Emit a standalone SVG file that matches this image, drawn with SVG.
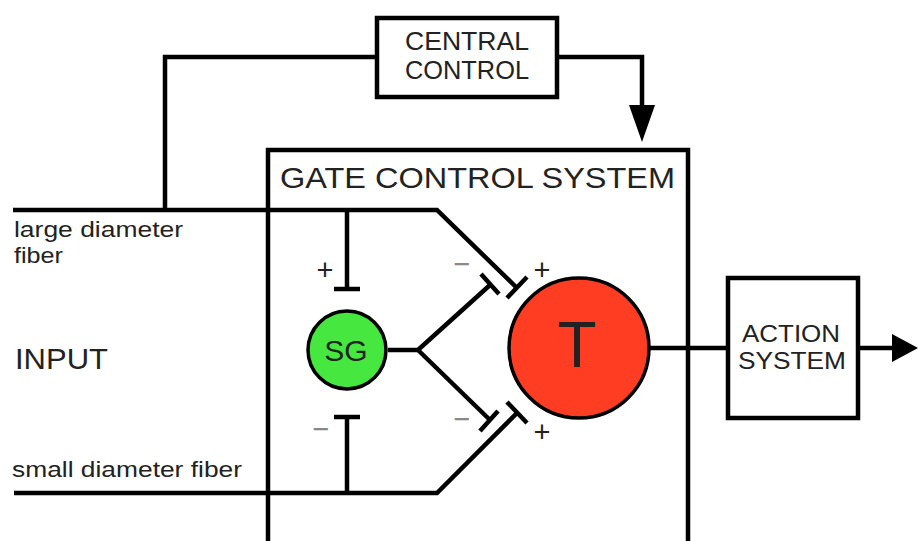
<svg xmlns="http://www.w3.org/2000/svg" width="918" height="541" viewBox="0 0 918 541">
<style>
.ln{fill:none;stroke:#000;stroke-width:4.5;stroke-linecap:butt;stroke-linejoin:miter}
.bx{fill:#fff;stroke:#000;stroke-width:4.5}
.t{font-family:"Liberation Sans",Arial,sans-serif;fill:#222}
.pm{font-family:"Liberation Sans",Arial,sans-serif;font-size:29px;text-anchor:middle}
</style>
<rect width="918" height="541" fill="#fff"/>
<g id="gate-control-system">
<rect class="bx" x="268" y="150" width="420" height="420"/>
<text class="t" x="280" y="188" font-size="30" textLength="395" lengthAdjust="spacingAndGlyphs">GATE CONTROL SYSTEM</text>
</g>
<g id="connectors">
<polyline class="ln" points="165,210 165,57 377,57"/>
<polyline class="ln" points="556,57 642,57 642,106"/>
<polygon points="629,105 655,105 642,142" fill="#000"/>
<polyline class="ln" points="13,210 437,210 517,288"/>
<line class="ln" x1="507" y1="298" x2="527" y2="277"/>
<polyline class="ln" points="14,493 437,493 517,413"/>
<line class="ln" x1="507" y1="402" x2="527" y2="423"/>
<line class="ln" x1="347" y1="210" x2="347" y2="289"/>
<line class="ln" x1="334" y1="289" x2="360" y2="289"/>
<line class="ln" x1="347" y1="493" x2="347" y2="417"/>
<line class="ln" x1="334" y1="417" x2="360" y2="417"/>
<polyline class="ln" points="490,285 418,350 388,350"/>
<polyline class="ln" points="490,420 418,350"/>
<line class="ln" x1="481" y1="274" x2="499" y2="294"/>
<line class="ln" x1="480" y1="431" x2="498" y2="411"/>
<line class="ln" x1="650" y1="348" x2="728" y2="348"/>
<line class="ln" x1="858" y1="348" x2="894" y2="348"/>
<polygon points="892,334 918,348 892,362" fill="#000"/>
</g>
<g id="central-control">
<rect class="bx" x="377" y="18" width="180" height="79"/>
<text class="t" x="467" y="50" font-size="25" text-anchor="middle" textLength="124" lengthAdjust="spacingAndGlyphs">CENTRAL</text>
<text class="t" x="467" y="79" font-size="25" text-anchor="middle" textLength="124" lengthAdjust="spacingAndGlyphs">CONTROL</text>
</g>
<g id="sg">
<circle cx="347" cy="350" r="39" fill="#46e840" stroke="#000" stroke-width="3.5"/>
<text class="t" x="346" y="361" font-size="30" text-anchor="middle" fill="#1f3a1f">SG</text>
</g>
<g id="t">
<circle cx="579" cy="348" r="70" fill="#ff3d22" stroke="#000" stroke-width="3.5"/>
<text class="t" x="577" y="367" font-size="64" text-anchor="middle" fill="#111">T</text>
</g>
<g id="action-system">
<rect class="bx" x="728" y="278" width="130" height="140"/>
<text class="t" x="791" y="342" font-size="24" text-anchor="middle" textLength="98" lengthAdjust="spacingAndGlyphs">ACTION</text>
<text class="t" x="792" y="369" font-size="24" text-anchor="middle" textLength="108" lengthAdjust="spacingAndGlyphs">SYSTEM</text>
</g>
<g id="labels">
<text class="t" x="14" y="237" font-size="22" textLength="169" lengthAdjust="spacingAndGlyphs">large diameter</text>
<text class="t" x="14" y="263" font-size="22" textLength="49" lengthAdjust="spacingAndGlyphs">fiber</text>
<text class="t" x="15" y="369" font-size="30" textLength="93" lengthAdjust="spacingAndGlyphs">INPUT</text>
<text class="t" x="12" y="477" font-size="22" textLength="230" lengthAdjust="spacingAndGlyphs">small diameter fiber</text>
<text class="pm" x="325" y="280" fill="#222">+</text>
<text class="pm" x="321" y="439" fill="#888">−</text>
<text class="pm" x="462" y="274" fill="#888">−</text>
<text class="pm" x="462" y="429" fill="#888">−</text>
<text class="pm" x="542" y="280" fill="#222">+</text>
<text class="pm" x="542" y="442" fill="#222">+</text>
</g>
</svg>
